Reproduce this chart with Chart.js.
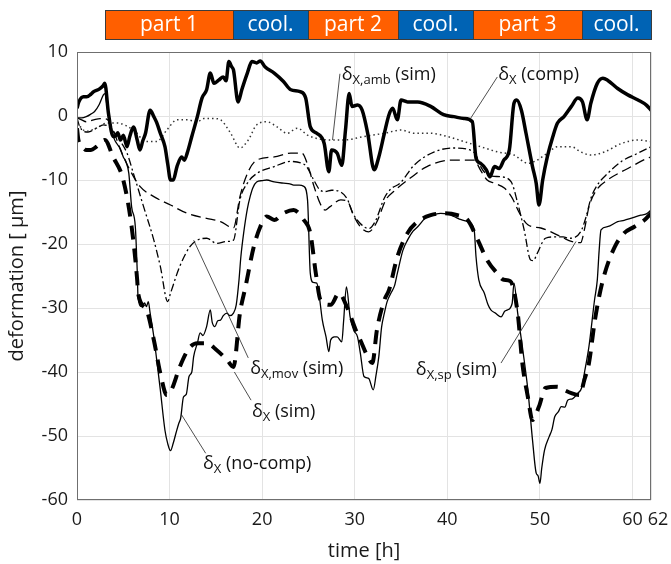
<!DOCTYPE html>
<html>
<head>
<meta charset="utf-8">
<script src="https://cdn.jsdelivr.net/npm/chart.js@4/dist/chart.umd.min.js"></script>
<style>
  html, body { margin: 0; padding: 0; background: #fff; }
</style>
</head>
<body>
<canvas id="deformChart" width="671" height="564"></canvas>
<script>
// time [h] / deformation [um] pairs
const compMeas = [[0,1.2],[0.2,2.2],[0.7,3.0],[1.05,3.0],[1.5,3.4],[1.8,3.8],[2.4,4.2],[2.85,4.8],[3.0,5.1],[3.4,0.4],[3.9,-3.2],[4.1,-3.2],[4.4,-2.6],[4.7,-3.75],[5.0,-3.0],[5.4,-4.8],[5.7,-3.2],[6.1,-1.7],[6.5,-3.75],[6.8,-5.3],[7.1,-3.9],[7.4,-2.7],[7.9,0.9],[8.3,-0.1],[8.6,-1.0],[9.0,-2.7],[9.5,-4.8],[9.8,-7.5],[10.1,-10],[10.4,-10],[10.8,-7.9],[11.3,-6.4],[11.6,-6.9],[11.9,-5.8],[12.4,-3.2],[13.0,-0.1],[13.5,2.8],[14.0,4.1],[14.4,6.7],[14.8,5.1],[15.3,5.6],[15.8,6.1],[16.1,5.5],[16.4,8.5],[16.7,7.7],[16.9,7.2],[17.4,2.2],[17.8,4.1],[18.4,6.7],[18.9,8.5],[19.4,8.3],[19.8,8.6],[20.3,7.7],[21.3,6.7],[22.3,5.4],[23.1,4.1],[24.1,3.8],[24.7,2.8],[25.2,-1.7],[25.9,-2.7],[26.7,-4.3],[27.2,-8.7],[27.5,-5.3],[28.1,-5.8],[28.6,-7.7],[29.0,-2.2],[29.4,3.5],[29.7,1.5],[30.3,1.7],[30.8,0.9],[31.4,-2.7],[32.1,-8.4],[32.6,-6.4],[33.2,-2.7],[33.7,0.2],[34.1,1.2],[34.6,-0.6],[35.0,2.5],[35.7,2.2],[36.8,2.2],[38.2,1.5],[39.6,0.2],[40.7,-0.1],[41.8,-0.4],[42.7,-0.9],[43.1,-6.6],[43.6,-7.4],[44.2,-8.4],[44.6,-9.5],[45.1,-7.9],[45.6,-8.2],[46.1,-6.9],[46.7,-5.3],[47.2,2.0],[47.5,2.5],[48.0,0.9],[48.5,-2.7],[49.2,-7.9],[49.6,-10.5],[49.9,-13.9],[50.3,-10],[50.8,-6.4],[51.4,-3.2],[51.9,-1.1],[52.6,-0.1],[53.4,1.5],[54.1,2.8],[54.6,2.2],[55.1,-0.6],[55.5,2.0],[56.2,5.1],[56.8,5.9],[57.3,5.6],[58.4,4.3],[59.5,3.3],[60.6,2.5],[61.5,1.7],[62,0.9]];

const ambSim = [[0,-1.1],[1.0,-2.4],[2.1,-1.9],[3.2,-1.1],[4.3,-1.1],[6.1,-2.2],[7.5,-4.0],[8.6,-4.0],[9.7,-2.2],[10.8,-0.6],[11.9,-0.6],[13.0,-0.9],[13.7,-0.4],[14.8,-0.4],[15.5,-0.6],[16.6,-2.7],[17.6,-5.0],[18.5,-3.75],[19.4,-1.4],[20.5,-0.9],[21.6,-1.7],[22.7,-2.7],[23.8,-1.9],[24.9,-3.0],[25.9,-3.5],[27.4,-3.75],[28.8,-3.75],[31.0,-3.2],[33.2,-2.7],[35.0,-2.2],[36.4,-2.7],[38.2,-2.7],[40.0,-3.2],[41.8,-4.0],[43.6,-4.8],[45.4,-5.6],[47.2,-6.1],[48.7,-7.4],[49.7,-6.9],[50.8,-5.8],[51.9,-4.8],[53.4,-4.8],[54.4,-5.6],[55.5,-6.1],[57.0,-5.6],[58.8,-4.3],[60.6,-3.75],[62,-4.0]];

const movSim = [[0,-0.3],[0.3,-1.7],[1.2,-2.5],[2.1,-1.9],[2.85,-1.4],[3.4,-1.6],[4.3,-3.2],[5.4,-5.8],[6.1,-9.0],[7.2,-14.2],[8.3,-19.4],[9.0,-23.5],[9.8,-29],[10.1,-27.7],[11.1,-23.5],[12.2,-20.4],[13.0,-19.4],[14.0,-19.1],[15.1,-19.9],[16.2,-19.6],[16.9,-19.4],[17.6,-13.1],[18.4,-10.5],[19.4,-9.0],[21.3,-7.9],[23.1,-7.1],[24.3,-7.4],[24.8,-7.9],[25.5,-9.8],[26.2,-11.5],[26.8,-11.8],[27.5,-11.6],[28.5,-11.9],[29.2,-13],[29.8,-15.2],[30.6,-16.8],[31.5,-17.6],[32.2,-16.5],[33.2,-12.8],[33.9,-11.4],[34.9,-10.5],[36.4,-7.7],[38.6,-5.6],[40.7,-5.0],[42.2,-5.2],[43.1,-6.1],[43.6,-7.9],[44.5,-9.3],[45.8,-9.5],[46.9,-10.3],[47.6,-13.6],[48.3,-17.8],[49.0,-22.5],[49.3,-22.6],[49.7,-21.5],[50.6,-19.1],[51.5,-18.9],[52.5,-18.9],[53.2,-19.1],[54.4,-18.1],[55.0,-15.7],[55.5,-12.9],[56.2,-10.8],[57.3,-9.0],[58.8,-7.1],[60.6,-5.8],[62,-4.8]];

const spSim = [[0,-0.3],[0.5,-0.6],[1.0,-0.9],[1.8,-0.6],[2.5,-0.4],[3.2,-0.5],[3.8,-1.8],[4.7,-5.3],[5.7,-8.4],[6.8,-11.0],[8.3,-12.6],[10.1,-13.9],[11.9,-15.2],[14.0,-16.0],[15.5,-16.5],[16.9,-17.5],[17.6,-12.6],[18.4,-9.0],[19.4,-6.9],[21.3,-6.4],[23.1,-5.8],[24.3,-5.8],[25.0,-8.0],[25.6,-11.0],[26.3,-13.8],[26.8,-14.7],[27.3,-14.2],[28.5,-13.1],[29.3,-13.5],[29.8,-15.3],[30.6,-17.3],[31.5,-18.1],[32.3,-16.8],[33.4,-13.0],[34.2,-11.8],[36.0,-9.7],[37.8,-7.9],[40.4,-6.9],[42.9,-6.9],[43.6,-8.5],[44.3,-10.0],[45.1,-10.5],[46.2,-11.3],[47.0,-12.8],[47.8,-15.2],[48.7,-17.0],[50.1,-17.5],[51.2,-18.1],[52.6,-19.1],[53.4,-19.6],[54.4,-19.8],[54.8,-17.8],[55.3,-14.2],[56.1,-11.6],[57.3,-10.0],[59.5,-8.2],[61.6,-6.6],[62,-6.4]];

const totalSim = [[0,-1.9],[0.15,-3.75],[0.5,-4.6],[1.0,-5.3],[1.5,-5.3],[2.1,-4.8],[3.0,-3.75],[3.9,-6.4],[5.0,-10],[5.9,-17.3],[6.5,-25.6],[6.6,-27.7],[7.5,-30.3],[8.3,-35],[9.0,-40.2],[9.7,-43.6],[10.2,-42.8],[11.1,-39.2],[12.1,-36.3],[13.0,-35.5],[14.0,-35.5],[15.1,-36.6],[16.2,-38.1],[16.9,-39.2],[17.6,-30.8],[18.2,-26.7],[19.1,-20.4],[19.8,-17.3],[20.5,-15.7],[21.3,-16.25],[22.3,-15.2],[23.4,-14.7],[24.5,-16.25],[25.2,-18.3],[25.8,-24.6],[26.3,-28.75],[27.4,-29.5],[28.3,-27.7],[29.2,-30],[30.1,-33.4],[30.6,-35],[31.4,-37.6],[31.9,-38.6],[32.4,-33.4],[33.2,-28.75],[33.7,-27.2],[34.6,-22],[35.7,-18.3],[36.8,-16.5],[38.2,-15.5],[39.6,-15.2],[41.1,-15.5],[42.2,-16.25],[43.3,-19.4],[44.3,-22.5],[45.4,-24.6],[46.1,-25.6],[46.8,-25.8],[47.6,-30.8],[48.1,-38.6],[48.7,-43.9],[49.2,-47.5],[49.9,-45.4],[50.6,-42.5],[51.9,-42.3],[52.6,-42.8],[53.4,-43.3],[54.3,-43.6],[54.8,-41.25],[55.3,-38.6],[55.9,-32.3],[56.4,-28.2],[57.0,-24.6],[58.1,-20.4],[59.1,-18.3],[60.2,-17.3],[61.3,-16.25],[62,-15.2]];

const noCompMeas = [[0,-0.3],[0.5,-0.3],[1.0,-0.1],[1.5,0.3],[1.9,0.7],[2.4,1.8],[2.85,3.3],[3.0,3.5],[3.3,1.0],[3.6,-1.1],[4.0,-3.5],[4.3,-4.3],[4.7,-5.2],[5.0,-6.4],[5.3,-7.2],[5.6,-9.0],[5.9,-14.2],[6.3,-17.3],[6.5,-24],[6.6,-28.5],[7.0,-29.8],[7.3,-29.2],[7.5,-29.8],[7.7,-29.0],[7.9,-30.8],[8.3,-34.5],[8.6,-38],[9.0,-42.8],[9.5,-49.1],[9.8,-51.2],[10.1,-52.3],[10.4,-51.1],[10.7,-49.5],[11.0,-48.0],[11.2,-47.2],[11.5,-43.9],[11.8,-43.5],[12.1,-40.7],[12.4,-40.0],[12.6,-37.6],[13.0,-35.5],[13.3,-33.9],[13.6,-34.3],[14.0,-32.9],[14.4,-30.3],[14.6,-32.2],[14.9,-32.9],[15.2,-32.0],[15.5,-31.9],[15.8,-31.2],[16.2,-30.8],[16.5,-31.2],[16.9,-30.8],[17.2,-29.5],[17.5,-25.6],[17.7,-22],[18.0,-18.3],[18.4,-14.5],[18.7,-12.6],[19.0,-11.2],[19.4,-10.3],[20.0,-10.1],[20.5,-10.0],[21.3,-10.3],[22.3,-10.5],[23.0,-10.6],[23.4,-10.8],[24.0,-10.8],[24.5,-11.0],[24.9,-13.1],[25.2,-24.6],[25.5,-26],[25.9,-26.1],[26.2,-28.5],[26.5,-31.9],[26.9,-34.5],[27.2,-36.8],[27.4,-35.0],[27.8,-34.5],[28.1,-34.5],[28.6,-35.3],[28.8,-32],[29.1,-26.7],[29.5,-31.4],[29.9,-33.5],[30.3,-34.5],[30.6,-37],[31.0,-40.7],[31.5,-41.0],[32.0,-42.8],[32.3,-40.5],[32.6,-37.6],[32.9,-33],[33.2,-30.8],[33.5,-29],[33.9,-27.7],[34.3,-26.5],[34.6,-24.6],[35.2,-21],[35.7,-19.4],[36.3,-18],[36.8,-17.3],[37.8,-15.7],[38.5,-15.4],[39.3,-15.2],[40.0,-15.3],[40.7,-15.7],[41.5,-16.2],[42.2,-16.5],[42.9,-17.8],[43.1,-22],[43.4,-25.6],[44.0,-27.7],[44.4,-29.5],[44.7,-30.3],[45.2,-30.8],[45.8,-31.4],[46.2,-30.5],[46.5,-30.3],[47.0,-29.3],[47.2,-26.1],[47.6,-30.8],[48.1,-36.0],[48.7,-42.8],[49.2,-50.6],[49.6,-55.8],[49.8,-56.2],[50.0,-57.4],[50.2,-55],[50.5,-52.2],[51.0,-50.1],[51.3,-49.0],[51.6,-47.0],[52.0,-46.2],[52.3,-45.4],[52.7,-45.5],[53.0,-44.4],[53.5,-44.2],[54.1,-43.3],[54.5,-42.5],[54.8,-40.2],[55.3,-36.0],[55.9,-28.75],[56.2,-25.6],[56.4,-21],[56.6,-17.8],[57.3,-17.3],[58.4,-16.5],[59.1,-16.3],[59.8,-16.0],[60.9,-15.5],[61.5,-15.3],[62,-14.7]];

const xTickValues = [0, 10, 20, 30, 40, 50, 60, 62];

// machining / cooling phases along the time axis
const phaseLabels = ['part 1', 'cool.', 'part 2', 'cool.', 'part 3', 'cool.'];
const phaseEdges = [3, 16.9, 25, 34.7, 42.8, 54.6, 62];
const phaseColors = ['#ff5f00', '#0063b4', '#ff5f00', '#0063b4', '#ff5f00', '#0063b4'];

// curve labels: subscript, tail, text anchor and leader line in data units
const notes = [
	{ sub: 'X,amb', tail: ' (sim)', at: [28.6, 5.6], from: [28.4, 6.6], to: [27.6, -3.75] },
	{ sub: 'X', tail: ' (comp)', at: [45.5, 5.6], from: [45.4, 6.1], to: [42.5, -0.4] },
	{ sub: 'X,mov', tail: ' (sim)', at: [18.7, -40.3], from: [18.5, -37.8], to: [12.6, -19.4] },
	{ sub: 'X', tail: ' (sim)', at: [18.9, -47.0], from: [18.8, -44.4], to: [17.0, -40.0] },
	{ sub: 'X', tail: ' (no-comp)', at: [13.6, -55.2], from: [13.9, -52.7], to: [11.3, -46.7] },
	{ sub: 'X,sp', tail: ' (sim)', at: [36.6, -40.4], from: [45.8, -38.6], to: [53.9, -19.6] },
];

const FONT = '"Open Sans", "Noto Sans", sans-serif';

function toXY(arr) {
	return arr.map((p) => ({ x: p[0], y: p[1] }));
}

const overlay = {
	id: 'overlay',
	afterDatasetsDraw(chart) {
		const { ctx, chartArea: a, scales: { x, y } } = chart;
		ctx.save();

		// plot frame
		ctx.strokeStyle = '#6f6f6f';
		ctx.lineWidth = 1;
		ctx.strokeRect(a.left + 0.5, a.top + 0.5, a.right - a.left - 1, a.bottom - a.top - 1);

		// phase banner
		for (let i = 0; i < phaseLabels.length; i++) {
			const x0 = Math.round(x.getPixelForValue(phaseEdges[i]));
			const x1 = Math.round(x.getPixelForValue(phaseEdges[i + 1]));
			ctx.fillStyle = phaseColors[i];
			ctx.fillRect(x0, 10, x1 - x0, 29);
			ctx.strokeStyle = '#3c3c3c';
			ctx.strokeRect(x0 + 0.5, 10.5, x1 - x0, 29);
			ctx.fillStyle = '#ffffff';
			ctx.font = '21px ' + FONT;
			ctx.textAlign = 'center';
			ctx.textBaseline = 'middle';
			ctx.fillText(phaseLabels[i], (x0 + x1) / 2, 25);
		}

		// leader lines + labels
		ctx.strokeStyle = '#222';
		ctx.lineWidth = 0.8;
		ctx.fillStyle = '#111';
		ctx.textAlign = 'left';
		ctx.textBaseline = 'alphabetic';
		notes.forEach((n) => {
			ctx.beginPath();
			ctx.moveTo(x.getPixelForValue(n.from[0]), y.getPixelForValue(n.from[1]));
			ctx.lineTo(x.getPixelForValue(n.to[0]), y.getPixelForValue(n.to[1]));
			ctx.stroke();

			const px = x.getPixelForValue(n.at[0]);
			const py = y.getPixelForValue(n.at[1]);
			ctx.font = '18px ' + FONT;
			ctx.fillText('δ', px, py);
			let w = ctx.measureText('δ').width;
			ctx.font = '13px ' + FONT;
			ctx.fillText(n.sub, px + w, py + 4);
			w += ctx.measureText(n.sub).width;
			ctx.font = '18px ' + FONT;
			ctx.fillText(n.tail, px + w, py);
		});
		ctx.restore();
	},
};

const base = { pointRadius: 0, fill: false, borderColor: '#000', cubicInterpolationMode: 'monotone' };

const ctx = document.getElementById('deformChart').getContext('2d');
const deformChart = new Chart(ctx, {
	type: 'line',
	data: {
		datasets: [
			{ ...base, label: 'δX (comp)', data: toXY(compMeas), borderWidth: 3.5, tension: 0 },
			{ ...base, label: 'δX,amb (sim)', data: toXY(ambSim), borderWidth: 1.5, borderColor: '#333', borderDash: [1.5, 3], tension: 0.4 },
			{ ...base, label: 'δX,mov (sim)', data: toXY(movSim), borderWidth: 1.3, borderDash: [8, 3, 2, 3], tension: 0.4 },
			{ ...base, label: 'δX,sp (sim)', data: toXY(spSim), borderWidth: 1.3, borderDash: [10, 5], tension: 0.4 },
			{ ...base, label: 'δX (sim)', data: toXY(totalSim), borderWidth: 4, borderDash: [14, 9], tension: 0.4 },
			{ ...base, label: 'δX (no-comp)', data: toXY(noCompMeas), borderWidth: 1.3, tension: 0 },
		],
	},
	options: {
		responsive: false,
		animation: false,
		layout: { padding: { top: 52, right: 20, left: 0, bottom: 0 } },
		plugins: {
			legend: { display: false },
			tooltip: { enabled: false },
		},
		scales: {
			x: {
				type: 'linear',
				min: 0,
				max: 62,
				afterBuildTicks: (scale) => {
					scale.ticks = xTickValues.map((v) => ({ value: v }));
				},
				afterFit: (scale) => {
					scale.height = 64;
					scale.paddingLeft = 0;
					scale.paddingRight = 0;
				},
				grid: { color: '#e3e3e3', drawTicks: false },
				border: { display: false },
				ticks: {
					autoSkip: false,
					maxRotation: 0,
					padding: 9,
					color: '#1a1a1a',
					font: { family: FONT, size: 18 },
					// nudge the last label clear of "60", as in the figure
					callback: (v) => (v === 62 ? '   62' : String(v)),
				},
				title: {
					display: true,
					text: 'time [h]',
					color: '#1a1a1a',
					font: { family: FONT, size: 20 },
					padding: { top: 0, bottom: 1 },
				},
			},
			y: {
				min: -60,
				max: 10,
				afterFit: (scale) => {
					scale.width = 77;
					scale.paddingTop = 0;
					scale.paddingBottom = 0;
				},
				grid: { color: '#e3e3e3', drawTicks: false },
				border: { display: false },
				ticks: {
					stepSize: 10,
					padding: 9,
					color: '#1a1a1a',
					font: { family: FONT, size: 18 },
				},
				title: {
					display: true,
					text: 'deformation [ μm]',
					color: '#1a1a1a',
					font: { family: FONT, size: 20 },
					padding: { top: 5, bottom: 0 },
				},
			},
		},
	},
	plugins: [overlay],
});
</script>
</body>
</html>
